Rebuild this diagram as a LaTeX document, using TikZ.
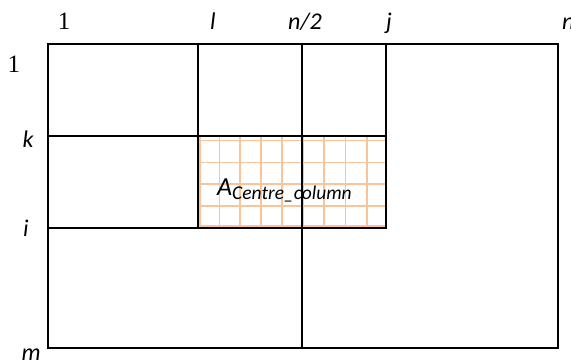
\documentclass[tikz,border=0pt]{standalone}
\usepackage{fontspec}
\setmainfont{Liberation Serif}
\newfontfamily\labelfont{Carlito}
\usetikzlibrary{positioning}
\definecolor{Ink}{HTML}{000000}
\definecolor{Peach}{HTML}{F9C49A}
\tikzset{
  cell/.style={draw=Ink, line width=1.4pt},
  block/.style={draw=Ink, line width=2.6pt},
  mesh/.style={draw=Peach, line width=1.8pt},
  idx/.style={font=\labelfont\itshape\fontsize{24}{24}\selectfont, inner sep=0pt, anchor=base},
  num/.style={font=\fontsize{25}{25}\selectfont, inner sep=0pt, anchor=base},
  blocktag/.style={font=\labelfont\itshape\fontsize{26}{26}\selectfont, inner sep=0pt, anchor=base west},
}
\begin{document}
\begin{tikzpicture}[x=1pt, y=-1pt]
  \useasboundingbox (0,0) rectangle (571,363);
  % shaded block
  \begin{scope}
    \clip (198,136) rectangle (386,228);
    \foreach \gx in {200,219.5,240,261,282,303,324,345.5,367}
      \draw[mesh] (\gx,136) -- (\gx,228);
    \foreach \gy in {140.5,162.5,184,206,226}
      \draw[mesh] (198,\gy) -- (386,\gy);
  \end{scope}
  % matrix partition
  \draw[cell] (48,44) rectangle (558,348);
  \draw[cell] (198,44) -- (198,228);
  \draw[cell] (302,44) -- (302,348);
  \draw[cell] (386,44) -- (386,228);
  \draw[cell] (48,136) -- (386,136);
  \draw[cell] (48,228) -- (386,228);
  \draw[block] (198,136) rectangle (386,228);
  % column indices
  \node[num] (c1) at (64,30) {1};
  \node[idx] (cl) at (213,30) {l};
  \node[idx] (cmid) at (305,30) {n/2};
  \node[idx] (cj) at (389,30) {j};
  \node[idx, anchor=base west] (cn) at (562,30) {n};
  % row indices
  \node[num] (r1) at (14,73) {1};
  \node[idx] (rk) at (28,148) {k};
  \node[idx] (ri) at (26,237) {i};
  \node[idx] (rm) at (31,361) {m};
  \node[blocktag] (blk) at (217,196) {A\raisebox{-4pt}{\fontsize{19.5}{19.5}\selectfont Centre\_column}};
\end{tikzpicture}
\end{document}
